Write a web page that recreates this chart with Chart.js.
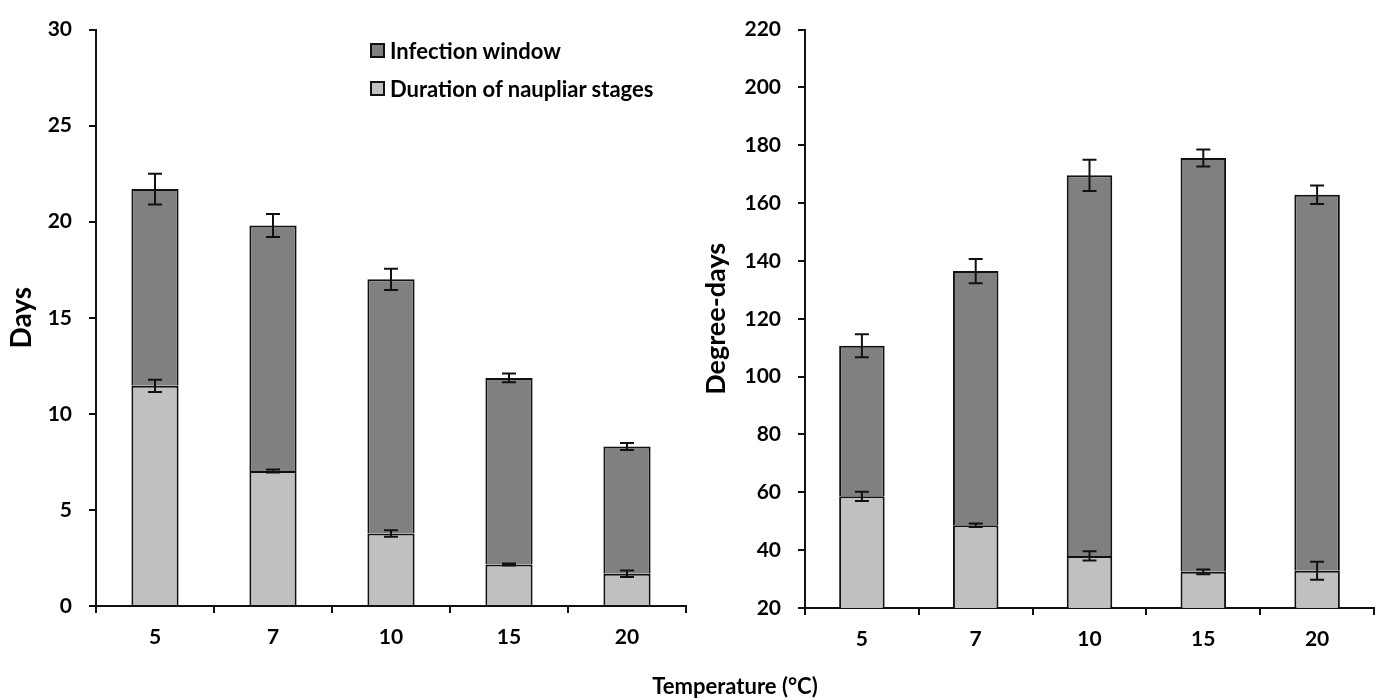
<!DOCTYPE html>
<html>
<head>
<meta charset="utf-8">
<script src="https://cdn.jsdelivr.net/npm/chart.js@4/dist/chart.umd.min.js"></script>
<style>
  body { margin: 0; background: #fff; font-family: Lato, sans-serif; }
  #wrap { position: relative; width: 1379px; height: 700px; }
  .panel { position: absolute; top: 0; }
  .legend { position: absolute; left: 370px; top: 37px; font: bold 22px Lato, sans-serif; color: #000; }
  .legend div { display: flex; align-items: center; height: 26px; margin-bottom: 12px; }
  .legend span.box { display: inline-block; width: 11px; height: 11px; border: 2px solid #111; margin-right: 5px; }
  .xtitle { position: absolute; left: 0; width: 1470px; top: 672px; text-align: center; font: bold 22px Lato, sans-serif; color: #000; }
</style>
</head>
<body>
<div id="wrap">
  <div class="panel" style="left:0"><canvas id="daysChart" width="700" height="700"></canvas></div>
  <div class="panel" style="left:700px"><canvas id="ddChart" width="679" height="700"></canvas></div>
  <div class="legend">
    <div><span class="box" style="background:#808080"></span>Infection window</div>
    <div><span class="box" style="background:#c0c0c0"></span>Duration of naupliar stages</div>
  </div>
  <div class="xtitle">Temperature (°C)</div>
</div>
<script>
// temperatures (°C)
const temps = ['5', '7', '10', '15', '20'];

// left panel: days
const naupliarDays = [11.46, 7.03, 3.77, 2.16, 1.68];
const naupliarDaysErr = [0.32, 0.08, 0.17, 0.05, 0.17];
const infectionDays = [10.24, 12.77, 13.23, 9.71, 6.62];
const infectionDaysErr = [0.8, 0.6, 0.55, 0.23, 0.18];

// right panel: degree-days
const naupliarDD = [58.6, 48.6, 38.0, 32.5, 32.9];
const naupliarDDErr = [1.6, 0.6, 1.6, 0.8, 3.1];
const infectionDD = [52.1, 87.9, 131.6, 143.1, 130.0];
const infectionDDErr = [4.0, 4.2, 5.4, 2.9, 3.2];

const tickFont = { family: 'Lato', size: 21, weight: 'bold' };

// draws +/- error bars on top of each stacked segment
const errorBars = {
  id: 'errorBars',
  afterDatasetsDraw(chart) {
    const ctx = chart.ctx;
    const yScale = chart.scales.y;
    ctx.save();
    ctx.strokeStyle = '#111';
    ctx.lineWidth = 2;
    chart.data.datasets.forEach((ds, i) => {
      const meta = chart.getDatasetMeta(i);
      meta.data.forEach((bar, j) => {
        const top = yScale.getValueForPixel(bar.y);
        const yHi = yScale.getPixelForValue(top + ds.errors[j]);
        const yLo = yScale.getPixelForValue(top - ds.errors[j]);
        ctx.beginPath();
        ctx.moveTo(bar.x, yHi); ctx.lineTo(bar.x, yLo);
        ctx.moveTo(bar.x - 7, yHi); ctx.lineTo(bar.x + 7, yHi);
        ctx.moveTo(bar.x - 7, yLo); ctx.lineTo(bar.x + 7, yLo);
        ctx.stroke();
      });
    });
    ctx.restore();
  }
};

const makeChart = (id, bottom, top, errBottom, errTop, yOpts, layout) => {
  return new Chart(document.getElementById(id), {
    type: 'bar',
    data: {
      labels: temps,
      datasets: [
        {
          label: 'Duration of naupliar stages',
          data: bottom,
          errors: errBottom,
          backgroundColor: '#c0c0c0',
          borderColor: '#111',
          borderWidth: 2,
          borderSkipped: 'start',
        },
        {
          label: 'Infection window',
          data: top,
          errors: errTop,
          backgroundColor: '#808080',
          borderColor: '#111',
          borderWidth: 2,
          borderSkipped: 'start',
        },
      ],
    },
    options: {
      responsive: false,
      animation: false,
      layout: { padding: layout.padding },
      datasets: { bar: { categoryPercentage: 1, barPercentage: 0.4 } },
      plugins: { legend: { display: false }, tooltip: { enabled: false } },
      scales: {
        x: {
          stacked: true,
          grid: { offset: true, drawOnChartArea: false, drawTicks: true, tickLength: 7, tickColor: '#111', lineWidth: 2 },
          border: { display: true, color: '#111', width: 2 },
          ticks: { color: '#000', font: tickFont, padding: 12 },
          afterFit: (scale) => { scale.height = layout.xHeight; },
        },
        y: {
          stacked: true,
          min: yOpts.min,
          max: yOpts.max,
          ticks: { stepSize: yOpts.step, color: '#000', font: tickFont, padding: 17 },
          grid: { drawOnChartArea: false, drawTicks: true, tickLength: 7, tickColor: '#111', lineWidth: 2 },
          border: { display: true, color: '#111', width: 2 },
          title: {
            display: true,
            text: yOpts.title,
            color: '#000',
            font: { family: 'Lato', size: yOpts.titleSize, weight: 'bold' },
            padding: { top: layout.titlePad, bottom: 0 },
          },
          afterFit: (scale) => { scale.width = layout.yWidth; },
        },
      },
    },
    plugins: [errorBars],
  });
};

makeChart('daysChart', naupliarDays, infectionDays, naupliarDaysErr, infectionDaysErr,
  { min: 0, max: 30, step: 5, title: 'Days', titleSize: 28 },
  { padding: { left: 0, top: 17, right: 14, bottom: 0 }, xHeight: 94, yWidth: 96, titlePad: 5 });

makeChart('ddChart', naupliarDD, infectionDD, naupliarDDErr, infectionDDErr,
  { min: 20, max: 220, step: 20, title: 'Degree-days', titleSize: 27 },
  { padding: { left: 0, top: 16, right: 5, bottom: 0 }, xHeight: 92, yWidth: 105, titlePad: 0 });
</script>
</body>
</html>
